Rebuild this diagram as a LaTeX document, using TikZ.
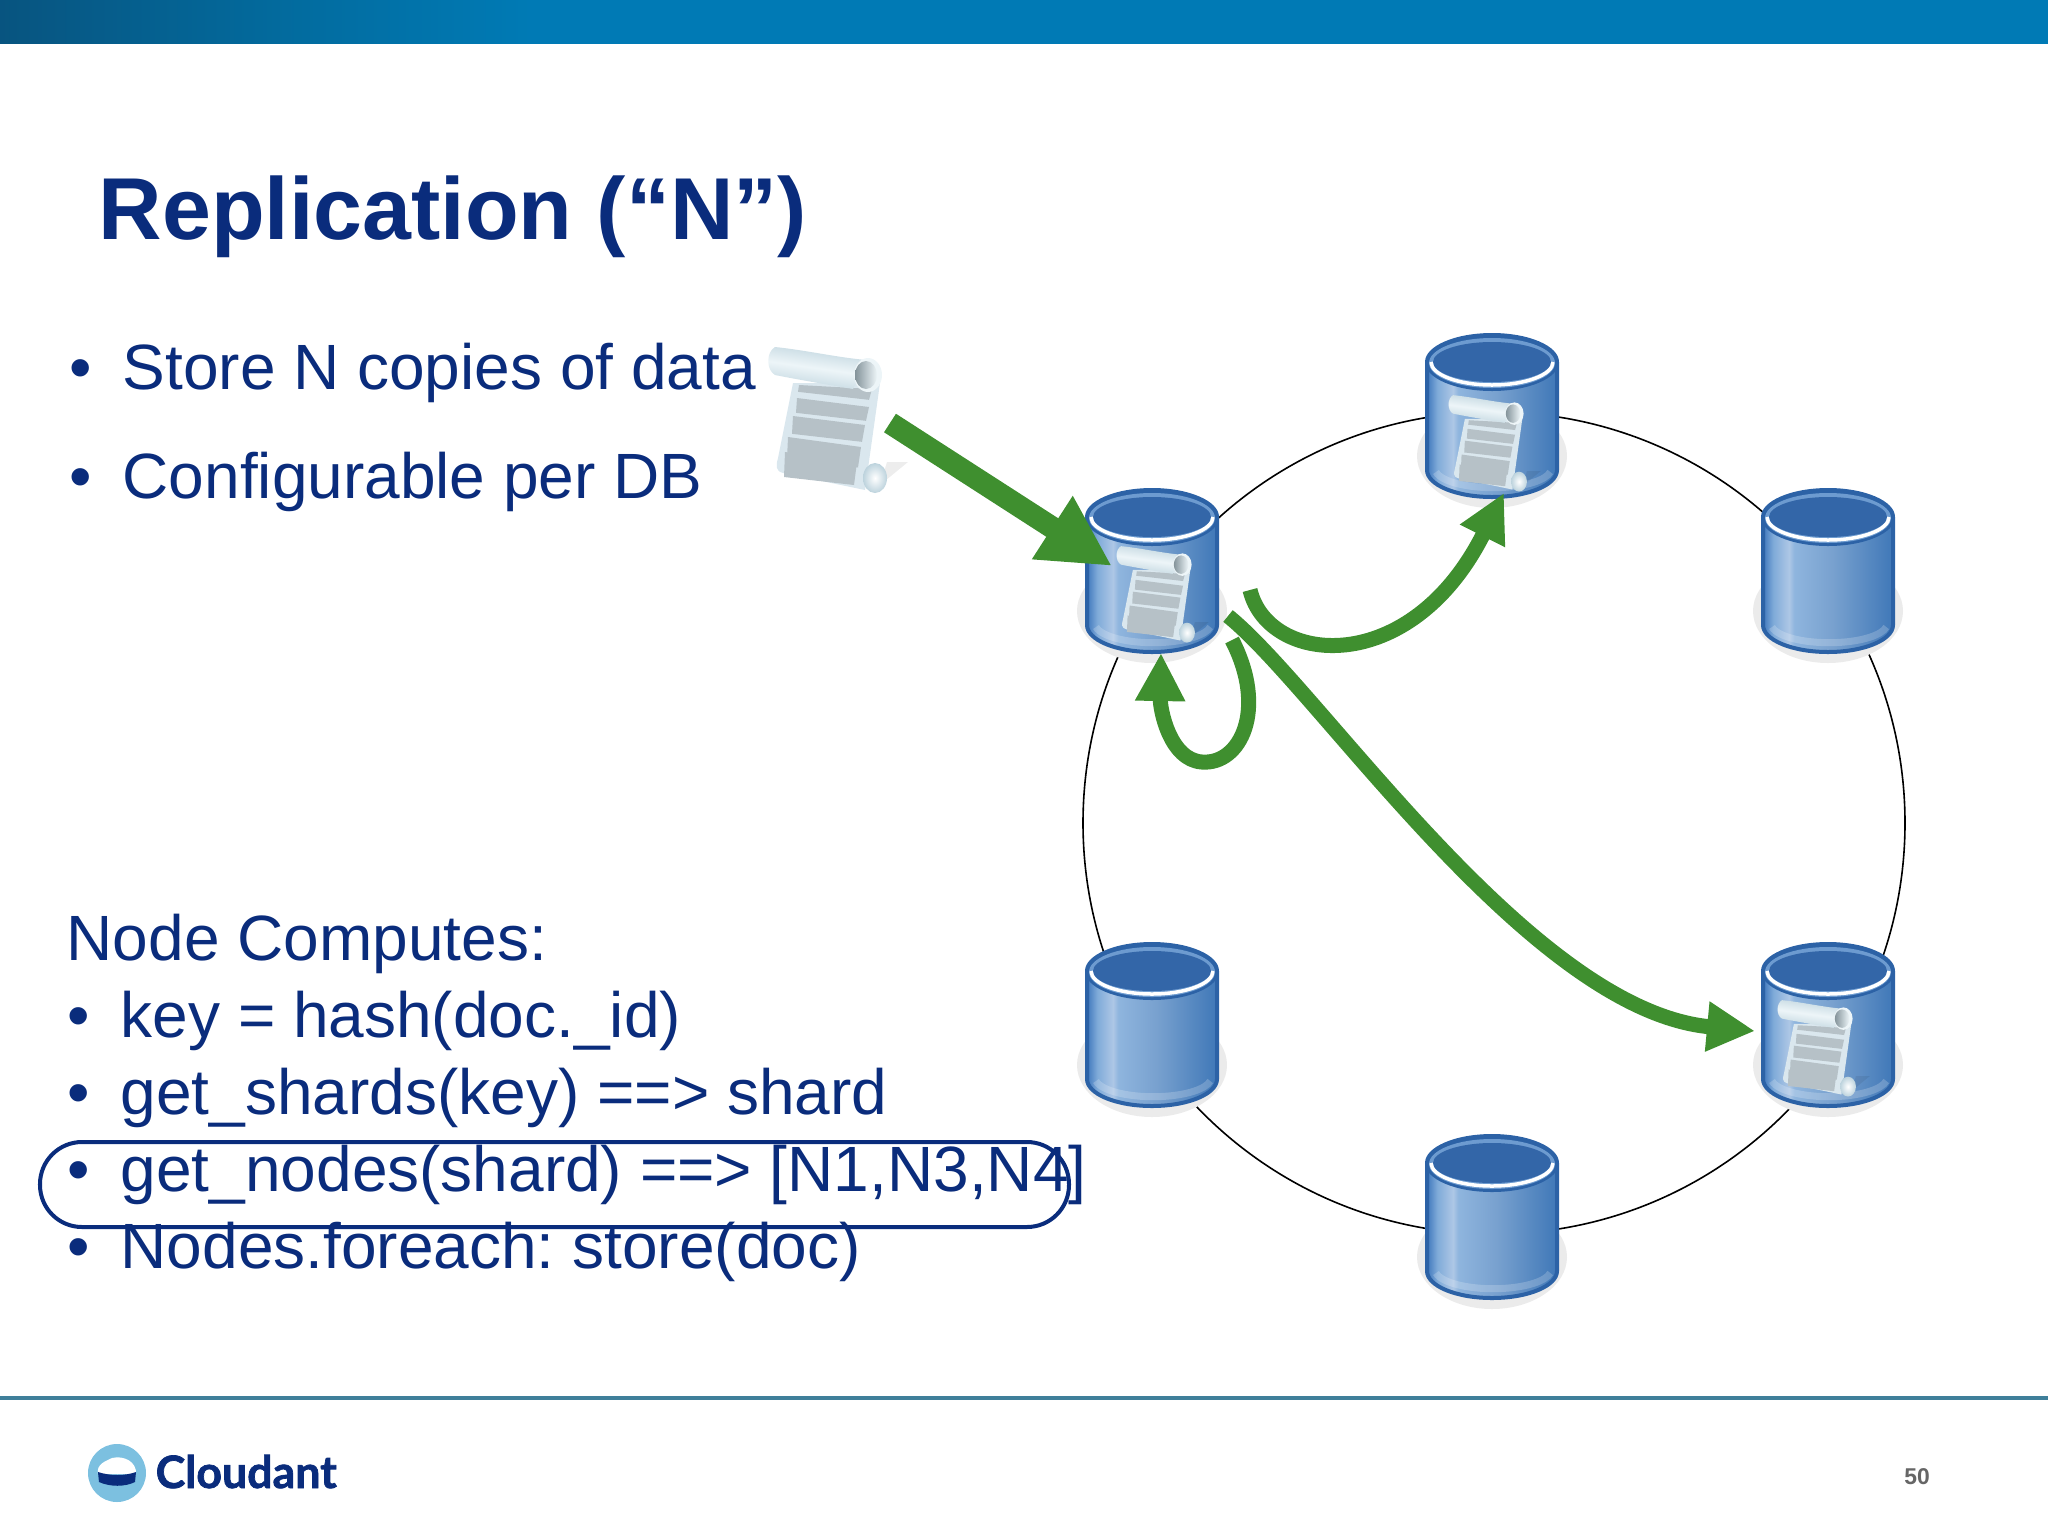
\documentclass[tikz,border=0pt]{standalone}
\usepackage{fontspec}
\setmainfont{Liberation Sans}
\newfontfamily\logofont[BoldFeatures={FakeBold=1.6}]{Lato}
\usetikzlibrary{arrows.meta}
\definecolor{navytext}{HTML}{0A2C7C}
\definecolor{arrowgreen}{HTML}{3F8F2F}
\definecolor{cylrim}{HTML}{2C62A6}
\definecolor{cyltop}{HTML}{3366A8}
\definecolor{cylring}{HTML}{6D9BD0}
\definecolor{scrollpaper}{HTML}{DAE7EE}
\definecolor{scrollink}{HTML}{B6C1C7}
\definecolor{rollshade}{HTML}{BDD3DD}
\definecolor{rolllight}{HTML}{EDF5F8}
\definecolor{footline}{HTML}{3F7F9A}
\definecolor{logoblue}{HTML}{7CC0E0}
\pgfdeclarehorizontalshading{cylbody}{100bp}{rgb(0bp)=(0.25,0.47,0.74); rgb(25bp)=(0.25,0.47,0.74); rgb(29bp)=(0.50,0.67,0.85); rgb(35bp)=(0.68,0.78,0.90); rgb(37bp)=(0.56,0.71,0.87); rgb(52bp)=(0.47,0.63,0.81); rgb(75bp)=(0.25,0.47,0.72); rgb(100bp)=(0.25,0.47,0.72)}
\pgfdeclarehorizontalshading{bandfade}{100bp}{rgb(0bp)=(0.03,0.33,0.50); rgb(25bp)=(0.03,0.33,0.50); rgb(32bp)=(0.01,0.42,0.62); rgb(38bp)=(0.0,0.48,0.71); rgb(75bp)=(0.0,0.48,0.71); rgb(100bp)=(0.0,0.48,0.71)}
\tikzset{
  bodytext/.style={anchor=base west,inner sep=0pt,text=navytext,font=\fontsize{18.2}{20}\selectfont\frenchspacing},
  titletext/.style={anchor=base west,inner sep=0pt,text=navytext,font=\fontsize{25}{28}\selectfont\bfseries},
  greenarrow/.style={draw=arrowgreen,line width=0.15cm,-{Triangle[length=0.48cm,width=0.47cm]}},
  ringline/.style={draw=black,line width=0.016cm},
  dbcyl/.pic={
    \fill[black!8] (0,40) ellipse[x radius=75,y radius=52];
    \shade[shading=cylbody] (-65,-54) -- (-65,54) arc[start angle=180,end angle=0,x radius=65,y radius=27] -- (65,-54) -- cycle;
    \draw[white,opacity=0.2,line width=0.07cm] (-56,56) arc[start angle=170,end angle=10,x radius=58,y radius=19];
    \draw[cylrim,line width=0.04cm] (-65,-54) -- (-65,54) arc[start angle=180,end angle=0,x radius=65,y radius=27] -- (65,-54);
    \fill[cylrim] (0,-54) ellipse[x radius=67,y radius=29];
    \fill[cylring] (0,-53) ellipse[x radius=63,y radius=25];
    \fill[cyltop] (0,-54) ellipse[x radius=59,y radius=20];
    \draw[white,line width=0.035cm] (-61,-54) arc[start angle=180,end angle=0,x radius=61,y radius=23];
  },
  scrolldoc/.pic={
    \fill[black,opacity=0.07] (55,67) -- (83,44) -- (62,44) -- cycle;
    \fill[scrollpaper] (-32,-35) -- (55,-35) -- (40,72) -- (-42,55) .. controls (-50,53) and (-49,47) .. (-47,40) -- cycle;
    \foreach \ba/\bb/\bc/\bd in {-26/-33/47/-29,-28/-20/44/-11,-32/-2/40/7,-37/19/36/29,-40/34/32/44}
      \fill[scrollink] (\ba,\bb) -- (\bc,\bd) -- ++(-3,{(\bd+40)/6+9}) -- ++({\ba-\bc+2},-8) -- cycle;
    \shade[top color=rollshade,bottom color=rollshade,middle color=rolllight,shading angle=-8] (-50,-71) .. controls (-20,-68) and (15,-60) .. (42,-58) -- (28,-29) .. controls (5,-33) and (-25,-38) .. (-50,-43) .. controls (-59,-48) and (-59,-66) .. cycle;
    \fill[rolllight] (43,-43) ellipse[x radius=14,y radius=17];
    \shade[left color=rollshade!70!black,right color=rolllight] (41,-43) ellipse[x radius=11,y radius=14];
    \shade[inner color=white,outer color=rollshade] (50,60) ellipse[x radius=12,y radius=15];
  }
}
\begin{document}
\begin{tikzpicture}[x=0.01cm,y=-0.01cm]
\useasboundingbox (0,0) rectangle (2048,1536);
% header and footer
\shade[shading=bandfade] (0,0) rectangle (2048,43);
\draw[footline,line width=0.035cm] (0,1398) -- (2048,1398);
\node[titletext] (title) at (98,239) {Replication (“N”)};
\node[bodytext] (bul1) at (69,389) {•};
\node[bodytext] (store) at (122,389) {Store N copies of data};
\node[bodytext] (bul2) at (69,498) {•};
\node[bodytext] (config) at (122,498) {Configurable per DB};
\node[bodytext] (computes) at (66,960) {Node Computes:};
\node[bodytext] (bul3) at (67,1037) {•};
\node[bodytext] (hashkey) at (120,1037) {key = hash(doc.\_id)};
\node[bodytext] (bul4) at (67,1114) {•};
\node[bodytext] (shards) at (120,1114) {get\_shards(key) ==> shard};
\node[bodytext] (bul5) at (67,1191) {•};
\node[bodytext] (nodes) at (120,1191) {get\_nodes(shard) ==> [N1,N3,N4]};
\node[bodytext] (bul6) at (67,1268) {•};
\node[bodytext] (foreach) at (120,1268) {Nodes.foreach: store(doc)};
\draw[navytext,line width=0.04cm,rounded corners=0.42cm] (40,1142) rectangle (1069,1227);
% ring with the databases on it
\coordinate (ringc) at (1494,823);
\draw[ringline] (ringc) circle[radius=411];
\pic (dbtop) at (1492,416) {dbcyl};
\pic (dbleft) at (1152,571) {dbcyl};
\pic (dbright) at (1828,571) {dbcyl};
\pic (dblow) at (1152,1025) {dbcyl};
\pic (dbrlow) at (1828,1025) {dbcyl};
\pic (dbbot) at (1492,1217) {dbcyl};
% documents
\pic at (825,418) {scrolldoc};
\pic[scale=0.66] at (1154,593) {scrolldoc};
\pic[scale=0.66] at (1486,442) {scrolldoc};
\pic[scale=0.66] at (1815,1047) {scrolldoc};
% arrows
\coordinate (inA) at (890,423);
\coordinate (inB) at (1112,566);
\coordinate (topA) at (1250,590);
\coordinate (topB) at (1504,493);
\coordinate (selfA) at (1232,640);
\coordinate (selfB) at (1161,653);
\coordinate (longA) at (1228,616);
\coordinate (longB) at (1755,1031);
\draw[greenarrow,line width=0.22cm,-{Triangle[length=0.71cm,width=0.70cm]}] (inA) -- (inB);
\draw[greenarrow] (topA) .. controls (1268,665) and (1410,680) .. (topB);
\draw[greenarrow] (selfA) .. controls (1268,710) and (1240,765) .. (1202,762) .. controls (1170,760) and (1160,710) .. (selfB);
\draw[greenarrow] (longA) .. controls (1320,690) and (1530,1010) .. (longB);
% logo
\fill[logoblue] (117,1473) circle[radius=29];
\fill[white] (98,1474) .. controls (96,1464) and (106,1461) .. (112,1458) .. controls (124,1455) and (137,1462) .. (136,1474) -- cycle;
\fill[navytext] (98,1472) .. controls (110,1476) and (125,1476) .. (136,1472) -- (135,1482) .. controls (125,1487) and (110,1487) .. (99,1482) -- cycle;
\node[anchor=base west,inner sep=0pt,text=navytext,font=\logofont\fontsize{12.7}{14}\selectfont\bfseries] (logotext) at (155,1488) {Cloudant};
\node[inner sep=0pt,text=black!60,font=\fontsize{6.5}{8}\selectfont\bfseries] (pagenum) at (1917,1477) {50};
\end{tikzpicture}
\end{document}
